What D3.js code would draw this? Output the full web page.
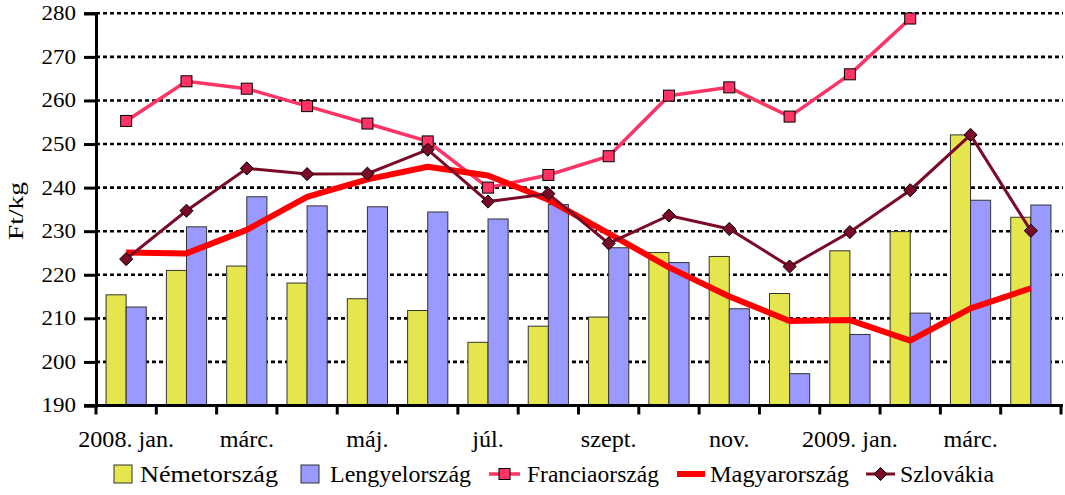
<!DOCTYPE html>
<html><head><meta charset="utf-8">
<script src="https://cdn.jsdelivr.net/npm/d3@7/dist/d3.min.js"></script>
<style>
html,body{margin:0;padding:0;background:#fff;}
text{font-family:"Liberation Serif","DejaVu Serif",serif;fill:#000;}
</style></head>
<body><svg id="chart" width="1065" height="495"></svg>
<script>
const categories = ["2008. jan.","2008. febr.","2008. márc.","2008. ápr.","2008. máj.","2008. jún.","2008. júl.","2008. aug.","2008. szept.","2008. okt.","2008. nov.","2008. dec.","2009. jan.","2009. febr.","2009. márc.","2009. ápr."];
const tickLabels = ["2008. jan.","","márc.","","máj.","","júl.","","szept.","","nov.","","2009. jan.","","márc.",""];
const nemet    = [215.4,221.0,222.0,218.1,214.5,211.8,204.5,208.2,210.3,225.1,224.2,215.7,225.5,229.9,252.1,233.2];
const lengyel  = [212.6,231.0,237.9,235.8,235.6,234.4,232.8,236.1,226.2,222.8,212.2,197.3,206.3,211.2,237.1,236.0];
const francia  = [255.3,264.4,262.7,258.7,254.7,250.6,240.0,242.9,247.2,261.1,263.0,256.3,266.0,278.8];
const magyar   = [225.1,224.9,230.3,237.9,241.9,244.8,242.8,237.2,229.5,221.7,215.0,209.4,209.6,204.9,212.3,216.9];
const szlovak  = [223.6,234.7,244.4,243.1,243.2,248.7,236.8,238.6,227.2,233.6,230.5,221.9,229.8,239.4,252.1,230.1];
const yTicks = [190,200,210,220,230,240,250,260,270,280];
const seriesNames = ["Németország","Lengyelország","Franciaország","Magyarország","Szlovákia"];
const yTitle = "Ft/kg";

const C = {nemet:"#E5E54E", lengyel:"#9999FF", francia:"#FF3366", magyar:"#FF0000", szlovak:"#7A0A28"};
const svg = d3.select("#chart");
const L = 96, R = 1061, T = 13.3, B = 405.5;

function stretch(sel, k){
  sel.each(function(){
    const w = this.getComputedTextLength();
    d3.select(this).attr("textLength", w*k).attr("lengthAdjust","spacingAndGlyphs");
  });
}

const x = d3.scaleBand().domain(categories).range([L,R]).paddingInner(1/3).paddingOuter(1/6);
const xs = d3.scaleBand().domain(["n","l"]).range([0,x.bandwidth()]);
const y = d3.scaleLinear().domain([190,280]).range([B,T]);
const cx = c => x(c) + x.bandwidth()/2;

// gridlines
svg.append("g").selectAll("line").data(yTicks.filter(v=>v>190)).join("line")
  .attr("x1",L).attr("x2",R+2).attr("y1",d=>y(d)).attr("y2",d=>y(d))
  .attr("stroke","#000").attr("stroke-width",2.6).attr("stroke-dasharray","4,3");

// bars
const bars = svg.append("g");
categories.forEach((c,i)=>{
  bars.append("rect").attr("x",x(c)+xs("n")).attr("width",xs.bandwidth())
    .attr("y",y(nemet[i])).attr("height",B-y(nemet[i]))
    .attr("fill",C.nemet).attr("stroke","#333").attr("stroke-width",1);
  bars.append("rect").attr("x",x(c)+xs("l")).attr("width",xs.bandwidth())
    .attr("y",y(lengyel[i])).attr("height",B-y(lengyel[i]))
    .attr("fill",C.lengyel).attr("stroke","#333").attr("stroke-width",1);
});

// axes
const yAxis = d3.axisLeft(y).tickValues(yTicks).tickSize(12).tickPadding(8);
const gy = svg.append("g").attr("transform",`translate(${L},0)`).call(yAxis);
gy.select(".domain").attr("stroke","#000").attr("stroke-width",3);
gy.selectAll(".tick line").attr("stroke","#000").attr("stroke-width",3);
gy.selectAll("text").attr("font-size",20).attr("font-family","Liberation Serif").attr("fill","#000").call(stretch,1.15);

const xAxis = d3.axisBottom(x).tickSize(0).tickPadding(0).tickFormat((d,i)=>tickLabels[i]);
const gx = svg.append("g").attr("transform",`translate(0,${B})`).call(xAxis);
gx.select(".domain").remove();
gx.selectAll("text").attr("font-size",23).attr("font-family","Liberation Serif").attr("fill","#000")
  .attr("y",41).attr("dy",0).call(stretch,1.05);
gx.append("line").attr("x1",L-12).attr("x2",R+2).attr("y1",0).attr("y2",0).attr("stroke","#000").attr("stroke-width",3);
const step = x.step();
gx.selectAll(".bt").data(d3.range(categories.length+1)).join("line")
  .attr("x1",i=>L+i*step).attr("x2",i=>L+i*step).attr("y1",0).attr("y2",9)
  .attr("stroke","#000").attr("stroke-width",3);

// lines
const line = d3.line().x((d,i)=>cx(categories[i])).y(d=>y(d));
svg.append("path").datum(francia).attr("d",line).attr("fill","none").attr("stroke",C.francia).attr("stroke-width",3.5);
svg.append("g").selectAll("rect").data(francia).join("rect")
  .attr("x",(d,i)=>cx(categories[i])-5.5).attr("y",d=>y(d)-5.5).attr("width",11).attr("height",11)
  .attr("fill",C.francia).attr("stroke","#000").attr("stroke-width",1);
svg.append("path").datum(magyar).attr("d",line).attr("fill","none").attr("stroke",C.magyar).attr("stroke-width",6).attr("stroke-linejoin","round");
svg.append("path").datum(szlovak).attr("d",line).attr("fill","none").attr("stroke",C.szlovak).attr("stroke-width",3);
const diamond = d3.symbol().type(d3.symbolDiamond2).size(110);
svg.append("g").selectAll("path").data(szlovak).join("path")
  .attr("transform",(d,i)=>`translate(${cx(categories[i])},${y(d)})`)
  .attr("d",diamond).attr("fill",C.szlovak).attr("stroke","#000").attr("stroke-width",1);

// y title
svg.append("text").attr("transform",`translate(23,211) rotate(-90)`)
  .attr("text-anchor","middle").attr("font-size",20).text(yTitle)
  .attr("textLength",58).attr("lengthAdjust","spacingAndGlyphs");

// legend
const lg = svg.append("g").attr("transform","translate(0,474)");
const lx = [114,301,489,677,866];
const tx = [140,330,527,710,900];
const tw = [138,141,132,139,94];
lg.append("rect").attr("x",lx[0]).attr("y",-9).attr("width",18).attr("height",18).attr("fill",C.nemet).attr("stroke","#333");
lg.append("rect").attr("x",lx[1]).attr("y",-9).attr("width",18).attr("height",18).attr("fill",C.lengyel).attr("stroke","#333");
lg.append("line").attr("x1",lx[2]).attr("x2",lx[2]+31).attr("stroke",C.francia).attr("stroke-width",3.5);
lg.append("rect").attr("x",lx[2]+10).attr("y",-5.5).attr("width",11).attr("height",11).attr("fill",C.francia).attr("stroke","#000");
lg.append("line").attr("x1",lx[3]).attr("x2",lx[3]+28).attr("stroke",C.magyar).attr("stroke-width",6);
lg.append("line").attr("x1",lx[4]).attr("x2",lx[4]+29).attr("stroke",C.szlovak).attr("stroke-width",3);
lg.append("path").attr("transform",`translate(${lx[4]+14.5},0)`).attr("d",diamond).attr("fill",C.szlovak).attr("stroke","#000");
lg.selectAll("text").data(seriesNames).join("text")
  .attr("x",(d,i)=>tx[i]).attr("y",7.5).attr("font-size",23).text(d=>d)
  .attr("textLength",(d,i)=>tw[i]).attr("lengthAdjust","spacingAndGlyphs");
</script></body></html>
